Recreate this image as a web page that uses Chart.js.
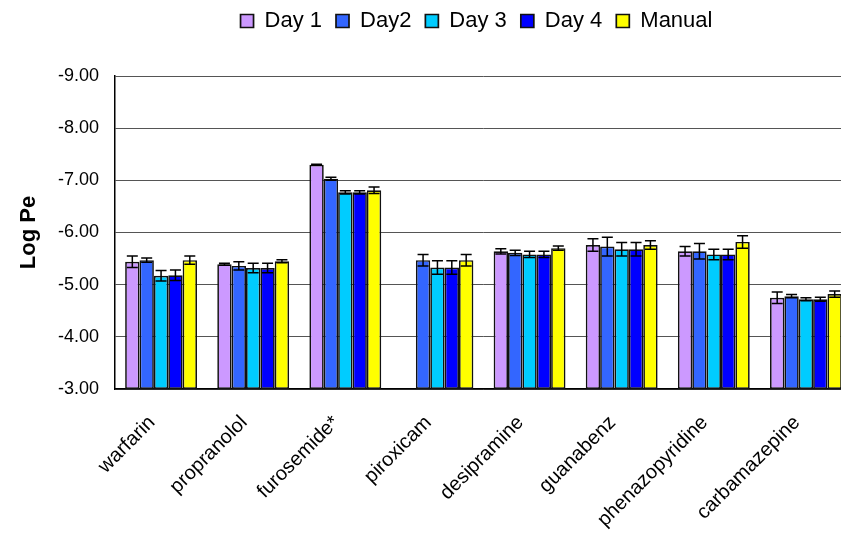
<!DOCTYPE html>
<html>
<head>
<meta charset="utf-8">
<script src="https://cdn.jsdelivr.net/npm/chart.js@4"></script>
<style>
  html, body { margin: 0; padding: 0; background: #fff; overflow: hidden; }
  #wrap { width: 852px; height: 534px; }
</style>
</head>
<body>
<div id="wrap"><canvas id="chart" width="852" height="534"></canvas></div>
<script>
/*
  ==================================================
  ====================== DATA ======================
  ==================================================
*/

const categories = ['warfarin', 'propranolol', 'furosemide*', 'piroxicam', 'desipramine', 'guanabenz', 'phenazopyridine', 'carbamazepine'];

const day1 = [-5.44, -5.39, -7.30, null, -5.64, -5.76, -5.64, -4.75];
const day1Err = [0.11, 0.02, 0.01, 0, 0.05, 0.12, 0.09, 0.11];

const day2 = [-5.47, -5.36, -7.03, -5.47, -5.61, -5.73, -5.64, -4.78];
const day2Err = [0.04, 0.08, 0.03, 0.11, 0.05, 0.18, 0.15, 0.03];

const day3 = [-5.17, -5.32, -6.77, -5.33, -5.58, -5.68, -5.58, -4.72];
const day3Err = [0.10, 0.09, 0.03, 0.13, 0.06, 0.13, 0.10, 0.03];

const day4 = [-5.18, -5.32, -6.77, -5.33, -5.58, -5.68, -5.58, -4.72];
const day4Err = [0.10, 0.09, 0.03, 0.13, 0.06, 0.13, 0.10, 0.04];

const manual = [-5.47, -5.45, -6.81, -5.47, -5.70, -5.76, -5.82, -4.82];
const manualErr = [0.08, 0.03, 0.06, 0.11, 0.04, 0.08, 0.12, 0.06];

const yTicks = [-9, -8, -7, -6, -5, -4, -3];
const yMin = -9;
const yMax = -3;

/*
  ==================================================
  ==================== HELPERS =====================
  ==================================================
*/

// bars hang from the bottom of the axis (-3) up to the value
let floating = arr => arr.map(v => v == null ? null : [yMax, v]);

let makeSet = (label, color, values, errs) => ({
  label: label,
  data: floating(values),
  errors: errs,
  values: values,
  backgroundColor: color,
  borderColor: '#111',
  borderWidth: 1.7,
  borderSkipped: false
});

// error bars drawn through the y scale
const errorBars = {
  id: 'errorBars',
  afterDatasetsDraw(chart) {
    let ctx = chart.ctx;
    let y = chart.scales.y;
    ctx.save();
    ctx.strokeStyle = '#000';
    ctx.lineWidth = 1.5;
    chart.data.datasets.forEach((ds, i) => {
      let meta = chart.getDatasetMeta(i);
      meta.data.forEach((bar, j) => {
        let v = ds.values[j];
        let e = ds.errors[j];
        if (v == null || !e) return;
        let top = y.getPixelForValue(v - e);
        let bot = y.getPixelForValue(v + e);
        let cap = 5.5;
        ctx.beginPath();
        ctx.moveTo(bar.x, top);
        ctx.lineTo(bar.x, bot);
        ctx.moveTo(bar.x - cap, top);
        ctx.lineTo(bar.x + cap, top);
        ctx.moveTo(bar.x - cap, bot);
        ctx.lineTo(bar.x + cap, bot);
        ctx.stroke();
      });
    });
    ctx.restore();
  }
};

// fixed legend height so the plot starts where the reference does,
// and a small nudge left to sit where the reference legend sits
const legendHeight = {
  id: 'legendHeight',
  afterInit(chart) {
    let legend = chart.legend;
    let fit = legend.fit;
    legend.fit = function () {
      fit.call(this);
      this.height = 80;
    };
  },
  afterLayout(chart) {
    chart.legend.left -= 7;
    chart.legend.right -= 7;
  }
};

/*
  ==================================================
  ===================== CHART ======================
  ==================================================
*/

Chart.defaults.font.family = '"Liberation Sans", Arial, sans-serif';
Chart.defaults.color = '#000';

new Chart(document.getElementById('chart'), {
  type: 'bar',
  data: {
    labels: categories,
    datasets: [
      makeSet('Day 1', '#CC99FF', day1, day1Err),
      makeSet('Day2', '#3366FF', day2, day2Err),
      makeSet('Day 3', '#00CCFF', day3, day3Err),
      makeSet('Day 4', '#0000FF', day4, day4Err),
      makeSet('Manual', '#FFFF00', manual, manualErr)
    ]
  },
  options: {
    responsive: false,
    animation: false,
    layout: { padding: { top: -4, left: 0, right: 0, bottom: 0 } },
    datasets: {
      bar: { categoryPercentage: 0.78, barPercentage: 1 }
    },
    plugins: {
      legend: {
        position: 'top',
        fullSize: false,
        labels: {
          font: { size: 22 },
          boxWidth: 13,
          boxHeight: 13,
          padding: 14,
          color: '#000'
        }
      },
      tooltip: { enabled: false }
    },
    scales: {
      x: {
        grid: { display: false },
        border: { display: true, color: '#000', width: 1.5 },
        ticks: {
          minRotation: 45,
          maxRotation: 45,
          autoSkip: false,
          padding: 14,
          labelOffset: -9,
          font: { size: 20 },
          color: '#000'
        },
        afterFit: scale => { scale.height = 145; }
      },
      y: {
        reverse: true,
        min: yMin,
        max: yMax,
        afterBuildTicks: scale => { scale.ticks = yTicks.map(v => ({ value: v })); },
        ticks: {
          callback: v => Number(v).toFixed(2),
          font: { size: 18 },
          padding: 16,
          color: '#000'
        },
        grid: { color: '#555', lineWidth: 1, drawTicks: false },
        border: { display: true, color: '#000', width: 1.5 },
        title: {
          display: true,
          text: 'Log Pe',
          font: { size: 22, weight: 'bold' },
          color: '#000',
          padding: { top: 16, bottom: 0 }
        },
        afterFit: scale => { scale.width = 115; }
      }
    }
  },
  plugins: [errorBars, legendHeight]
});
</script>
</body>
</html>
